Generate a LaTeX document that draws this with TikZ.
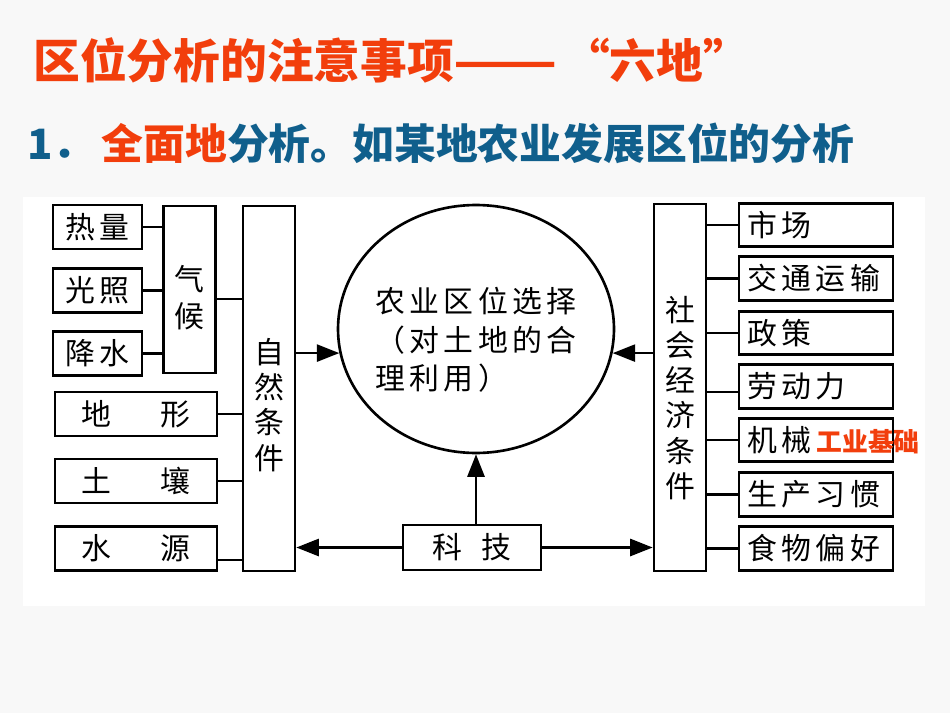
\documentclass[tikz,border=0pt]{standalone}
\usepackage{fontspec}
\usepackage{graphicx}
\usepackage{tikz}
\usetikzlibrary{arrows.meta,shapes.geometric}
\newfontfamily\cjk{Noto Sans CJK SC}
\newfontfamily\cjkls[LetterSpace=15]{Noto Sans CJK SC}
\newcommand{\lbl}{\cjkls\fontsize{17pt}{20pt}\selectfont}
\definecolor{titlered}{RGB}{242,62,12}
\definecolor{titleblue}{RGB}{16,95,140}
\definecolor{slide}{RGB}{248,248,248}

\begin{document}
\begin{tikzpicture}[x=0.02cm,y=-0.02cm,
    box/.style={draw,line width=1.5pt,inner sep=0pt,font=\lbl},
    lbox/.style={box,minimum width=1.78cm,minimum height=0.88cm},
    wbox/.style={box,minimum width=3.24cm,minimum height=0.88cm},
    rbox/.style={box,text width=2.76cm,align=left,inner xsep=0.16cm,minimum height=0.87cm},
    tall/.style={box,minimum width=1.04cm},
    vtxt/.style={align=center,font=\lbl},
    link/.style={line width=1.5pt},
    arr/.style={line width=1.5pt,-{Triangle[length=0.45cm,width=0.34cm]}}]
    \fill[slide] (0,0) rectangle (950,713);
    \fill[white] (23,197) rectangle (925,606);

    \node[anchor=west,inner sep=0pt,text=titlered,font=\cjk\bfseries\fontsize{26.6pt}{30pt}\selectfont] (title) at (33,60) {区位分析的注意事项\scalebox{1.3}[1]{——}\hspace{0.1cm}“六地”};
    \node[anchor=west,inner sep=0pt,text=titleblue,font=\cjk\bfseries\fontsize{23.8pt}{28pt}\selectfont] (sub) at (27,143) {1．\hspace{0.14cm}\textcolor{titlered}{全面地}分析。如某地农业发展区位的分析};

    % left side
    \node[lbox] (re) at (97.5,227) {热量};
    \node[lbox] (gz) at (97.5,290.5) {光照};
    \node[lbox] (js) at (97.5,353.5) {降水};
    \node[wbox] (dx) at (136,414) {地\hspace{0.97cm}形};
    \node[wbox] (tr) at (136,481) {土\hspace{0.97cm}壤};
    \node[wbox] (sy) at (136,548.5) {水\hspace{0.97cm}源};
    \node[tall,minimum height=3.34cm,label={[vtxt,font=\cjkls\fontsize{17pt}{21pt}\selectfont,yshift=-0.16cm]center:气\\候}] (qh) at (189.5,289.5) {};
    \node[tall,minimum height=7.3cm,label={[vtxt,yshift=-0.33cm]center:自\\然\\条\\件}] (zr) at (269,388.5) {};

    % middle
    \node[ellipse,draw,line width=1.5pt,minimum width=5.52cm,minimum height=4.96cm,
      label={[align=left,font=\cjkls\fontsize{17pt}{22pt}\selectfont,yshift=-0.22cm]center:农业区位选择\\（对土地的合\\理利用）}] (ny) at (476,329) {};
    \node[box,minimum width=2.76cm,minimum height=0.9cm] (kj) at (472,547.5) {科\hspace{0.4cm}技};

    % right side
    \node[tall,minimum height=7.34cm,label={[vtxt,yshift=-0.21cm]center:社\\会\\经\\济\\条\\件}] (sh) at (680,387.5) {};
    \node[rbox] (sc) at (816,225) {市场};
    \node[rbox] (jt) at (816,278.5) {交通运输};
    \node[rbox] (zc) at (816,333) {政策};
    \node[rbox] (ld) at (816,386.5) {劳动力};
    \node[rbox] (jx) at (816,440) {机械};
    \node[rbox] (xg) at (816,494.5) {生产习惯};
    \node[rbox] (sw) at (816,548.5) {食物偏好};
    \node[anchor=west,inner sep=0pt,text=titlered,font=\cjk\bfseries\fontsize{14.7pt}{17pt}\selectfont] (gy) at (816,442) {工业基础};

    \path[link]
    (re.east) edge (re.east -| qh.west)
    (gz.east) edge (gz.east -| qh.west)
    (js.east) edge (js.east -| qh.west)
    (qh.-19) edge (qh.-19 -| zr.west)
    (dx.east) edge (dx.east -| zr.west)
    (tr.east) edge (tr.east -| zr.west)
    (sy.-8) edge (sy.-8 -| zr.west)
    (sc.west -| sh.east) edge (sc.west)
    (jt.west -| sh.east) edge (jt.west)
    (zc.west -| sh.east) edge (zc.west)
    (ld.184 -| sh.east) edge (ld.184)
    (jx.west -| sh.east) edge (jx.west)
    (xg.west -| sh.east) edge (xg.west)
    (sw.west -| sh.east) edge (sw.west)
    ;
    \path[arr]
    (ny.190 -| zr.east) edge (ny.190)
    (ny.-10 -| sh.west) edge (ny.-10)
    (kj.north -| ny.south) edge (ny.south)
    (kj.west) edge (kj.west -| zr.east)
    (kj.east) edge (kj.east -| sh.west)
    ;
\end{tikzpicture}
\end{document}
